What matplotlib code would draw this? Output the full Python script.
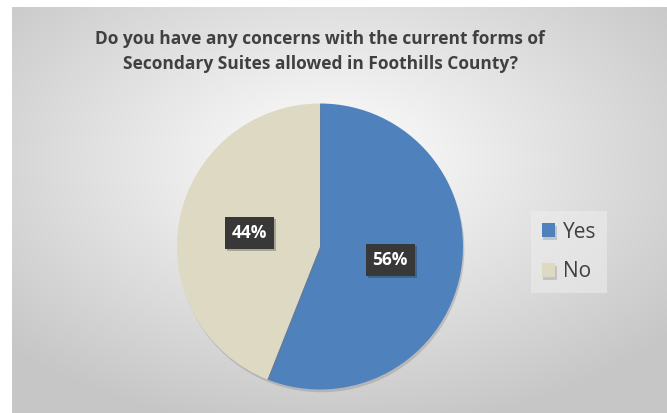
import numpy as np
import matplotlib.pyplot as plt
import matplotlib.patheffects as pe

labels = ['Yes', 'No']
shares = [56, 44]
colors = ['#4F81BD', '#DDD9C3']
title = "Do you have any concerns with the current forms of\nSecondary Suites allowed in Foothills County?"

plt.rcParams['font.family'] = ['Open Sans', 'DejaVu Sans']

fig = plt.figure(figsize=(6.67, 4.13), dpi=100)
fig.patch.set_facecolor('white')

# radial gradient background (starts a bit in from left/top)
bg = fig.add_axes([12/667, 0, 1 - 12/667, 1 - 7/413])
yy, xx = np.mgrid[0:200, 0:320]
cx, cy = 155, 75
d = np.sqrt(((xx - cx) / 320) ** 2 + ((yy - cy) / 200) ** 2)
shade = np.clip(1.0 - 0.33 * d, 0.78, 1.0)
img = np.dstack([shade, shade, shade])
bg.imshow(img, aspect='auto', extent=[0, 1, 0, 1], origin='upper', interpolation='bilinear')
bg.axis('off')

fig.text(0.48, 0.875, title, ha='center', va='center', fontsize=12.5,
         fontweight='bold', color='#404040', linespacing=1.45)

# pie: centre (320, 246.5), radius ~143 px
r = 143
ax = fig.add_axes([(320 - r) / 667, (413 - 246.5 - r) / 413, 2 * r / 667, 2 * r / 413])
wedges, texts, autotexts = ax.pie(
    shares, colors=colors, startangle=90, counterclock=False,
    autopct='%d%%', pctdistance=0.5,
    wedgeprops=dict(linewidth=0, path_effects=[pe.SimplePatchShadow(offset=(1, -2), shadow_rgbFace='#777777', alpha=0.3), pe.Normal()]),
    textprops=dict(color='white', fontsize=12.5, fontweight='bold'))
for t in autotexts:
    t.set_bbox(dict(boxstyle='square,pad=0.4', facecolor='#383838', edgecolor='none'))
    t.get_bbox_patch().set_path_effects([pe.SimplePatchShadow(offset=(1.5, -1.5), alpha=0.25), pe.Normal()])
ax.set_aspect('equal')
ax.set_xlim(-1, 1)
ax.set_ylim(-1, 1)

leg = fig.legend(wedges, labels, loc='center left', bbox_to_anchor=(521 / 667, 1 - 252 / 413),
                 frameon=True, fontsize=15, handlelength=0.65, handleheight=0.65,
                 handletextpad=0.35, labelspacing=0.9, borderpad=0.5, fancybox=False)
leg.get_frame().set_facecolor('#eeeeee')
leg.get_frame().set_edgecolor('none')
leg.get_frame().set_alpha(0.55)
for t in leg.get_texts():
    t.set_color('#404040')

fig.savefig('out.png', dpi=100)
